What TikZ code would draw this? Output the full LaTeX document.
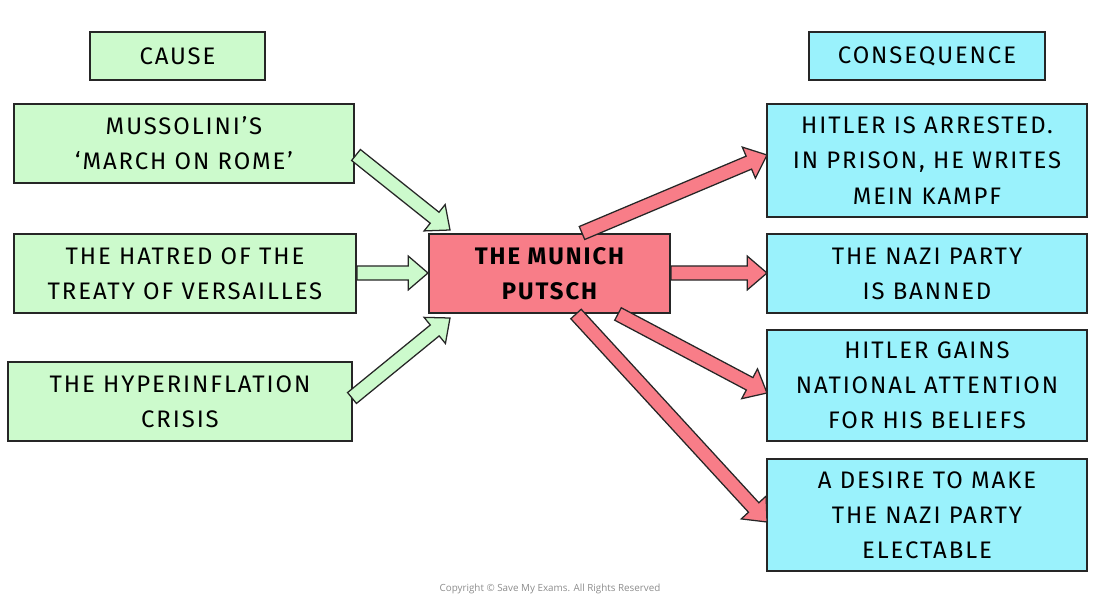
\documentclass[tikz,border=0pt]{standalone}
\usepackage{fontspec}
\setmainfont{Fira Sans}[LetterSpace=8]
\newfontfamily\cpy{Open Sans}
\usetikzlibrary{calc}
\definecolor{cg}{HTML}{CCFACC}
\definecolor{cr}{HTML}{F87D88}
\definecolor{cc}{HTML}{9AF2FC}
\tikzset{
 box/.style={draw=black!85,line width=0.9pt,inner sep=0pt,align=center,font=\fontsize{17}{25}\selectfont},
 barrow/.style={draw=black!85,line width=0.9pt,line join=miter,
  to path={
   ($(\tikztostart)!5pt!90:(\tikztotarget)$)
   -- ($ ($(\tikztotarget)!14pt!(\tikztostart)$)!5pt!-90:(\tikztostart) $)
   -- ($ ($(\tikztotarget)!14pt!(\tikztostart)$)!12pt!-90:(\tikztostart) $)
   -- (\tikztotarget)
   -- ($ ($(\tikztotarget)!14pt!(\tikztostart)$)!12pt!90:(\tikztostart) $)
   -- ($ ($(\tikztotarget)!14pt!(\tikztostart)$)!5pt!90:(\tikztostart) $)
   -- ($(\tikztostart)!5pt!-90:(\tikztotarget)$) -- cycle}}
}
\begin{document}
\begin{tikzpicture}[x=0.025cm,y=-0.025cm]
\useasboundingbox (0,0) rectangle (1100,603);
\newcommand\bx[6]{\node[box,fill=#6,minimum width=#3*0.025cm-0.9pt,minimum height=#4*0.025cm-0.9pt] (#5) at (#1,#2) {#5text};}
\node[box,fill=cg,minimum width=4.375cm,minimum height=1.2cm] (cause) at (177.5,56) {CAUSE};
\node[box,fill=cc,minimum width=5.9cm,minimum height=1.2cm] (cons) at (927,56) {CONSEQUENCE};
\node[box,fill=cg,minimum width=8.5cm,minimum height=1.975cm] (c1) at (184,143.5) {MUSSOLINI’S\\‘MARCH ON ROME’};
\node[box,fill=cg,minimum width=8.55cm,minimum height=1.975cm] (c2) at (185,273.5) {THE HATRED OF THE\\TREATY OF VERSAILLES};
\node[box,fill=cg,minimum width=8.6cm,minimum height=1.975cm] (c3) at (180,401.5) {THE HYPERINFLATION\\CRISIS};
\node[box,fill=cr,minimum width=6.025cm,minimum height=1.975cm,font=\fontsize{17}{25}\selectfont\bfseries] (m) at (549.5,273.5) {THE MUNICH\\PUTSCH};
\node[box,fill=cc,minimum width=8cm,minimum height=2.825cm] (r1) at (927,160.5) {HITLER IS ARRESTED.\\IN PRISON, HE WRITES\\MEIN KAMPF};
\node[box,fill=cc,minimum width=8cm,minimum height=1.975cm] (r2) at (927,273.5) {THE NAZI PARTY\\IS BANNED};
\node[box,fill=cc,minimum width=8cm,minimum height=2.775cm] (r3) at (927,385.5) {HITLER GAINS\\NATIONAL ATTENTION\\FOR HIS BELIEFS};
\node[box,fill=cc,minimum width=8cm,minimum height=2.8cm] (r4) at (927,515) {A DESIRE TO MAKE\\THE NAZI PARTY\\ELECTABLE};
\coordinate (g1s) at (356,155); \coordinate (g1e) at (450,230);
\coordinate (g2s) at (357,273); \coordinate (g2e) at (428,273);
\coordinate (g3s) at (352,398); \coordinate (g3e) at (450,318);
\coordinate (r1s) at (582,233); \coordinate (r1e) at (767,155);
\coordinate (r2s) at (671,273); \coordinate (r2e) at (767,273);
\coordinate (r3s) at (618,314); \coordinate (r3e) at (767,393);
\coordinate (r4s) at (576,314); \coordinate (r4e) at (767,522);
\foreach \a in {g1,g2,g3} \draw[barrow,fill=cg] (\a s) to (\a e);
\foreach \a in {r1,r2,r3,r4} \draw[barrow,fill=cr] (\a s) to (\a e);
\node[font=\cpy\fontsize{7}{8}\selectfont,text=black!45] (copy) at (550,589) {Copyright © Save My Exams. All Rights Reserved};
\end{tikzpicture}
\end{document}
